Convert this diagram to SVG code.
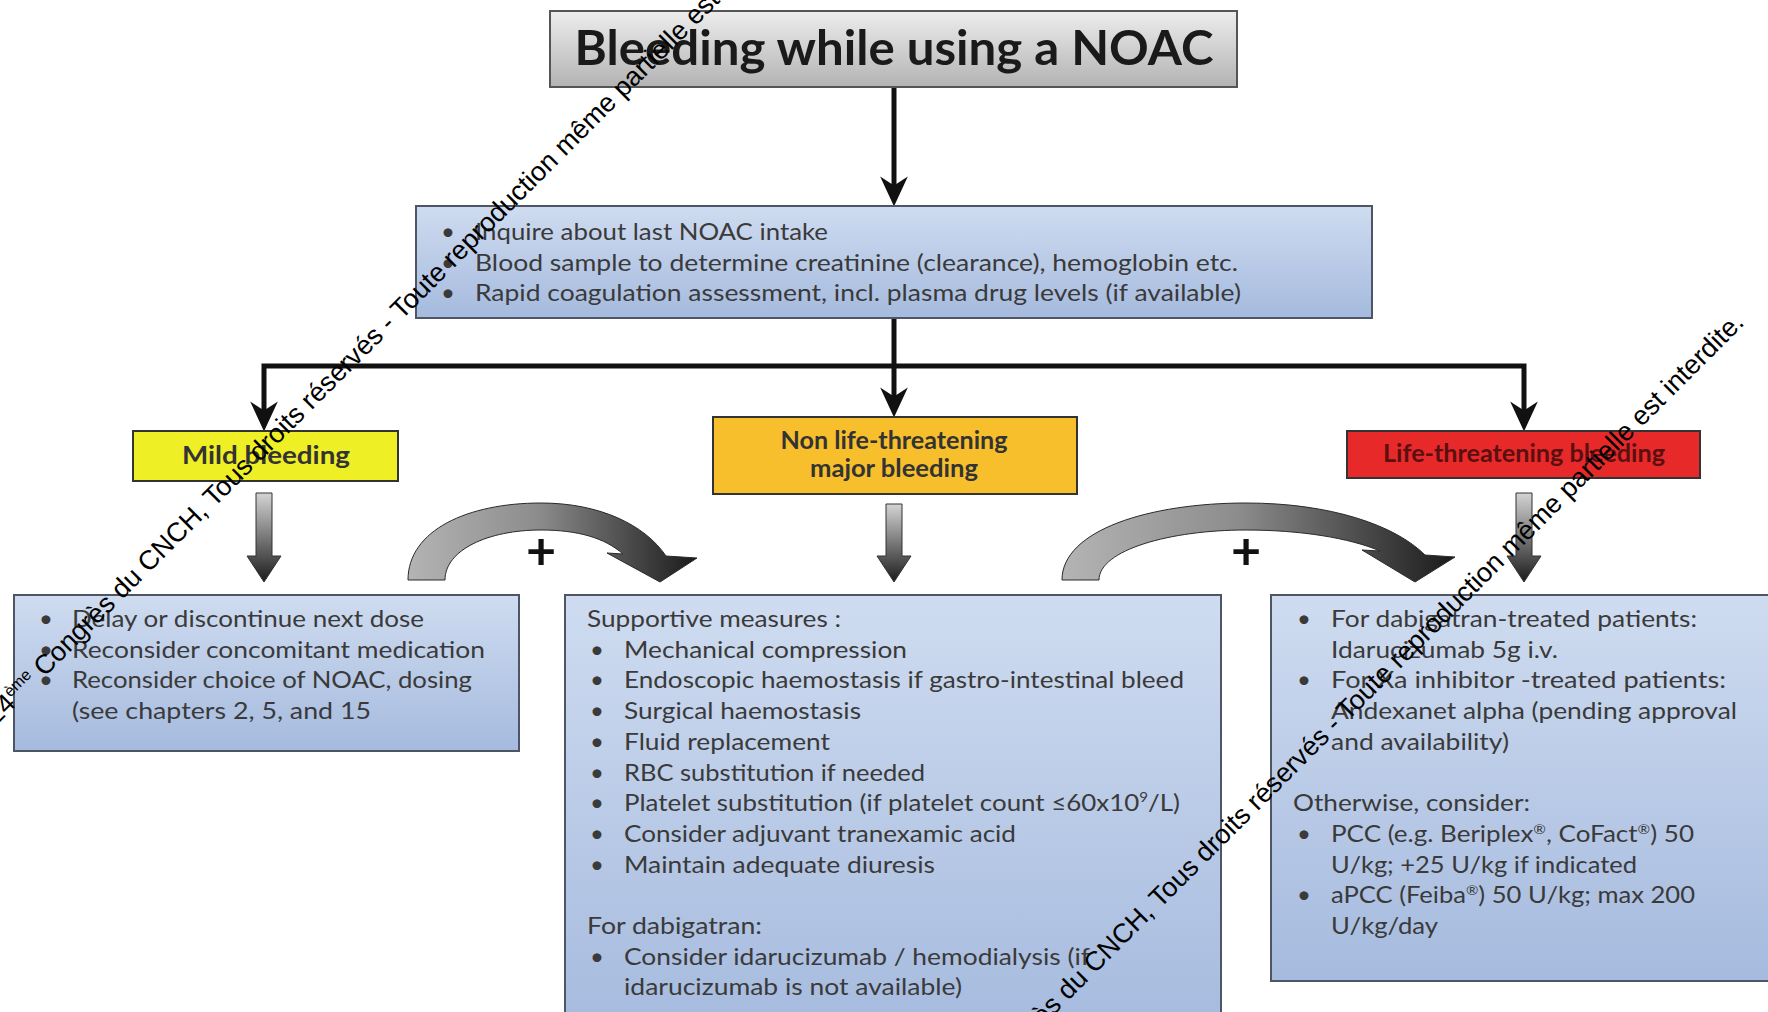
<svg xmlns="http://www.w3.org/2000/svg" width="1768" height="1012" viewBox="0 0 1768 1012">
<style>
.body{font-family:Lato,"Liberation Sans",sans-serif;font-size:24px;fill:#3a3a3a}
.lbl{font-family:Lato,"Liberation Sans",sans-serif;font-size:24px;font-weight:bold;text-anchor:middle}
.blue{fill:url(#blueGrad);stroke:#4e5666;stroke-width:2}
.conn{fill:none;stroke:#111;stroke-width:5;stroke-linejoin:miter}
.blk{fill:url(#blockGrad);stroke:#333;stroke-width:1}
.crv{fill:url(#curveGrad);stroke:#2a2a2a;stroke-width:1}
.wm{font-family:"Liberation Sans",Arial,sans-serif;font-size:27px;fill:#000}
.sup{font-size:14px}
</style>
<defs>
<linearGradient id="titleGrad" x1="0" y1="0" x2="0" y2="1"><stop offset="0" stop-color="#ededed"/><stop offset="1" stop-color="#b3b3b3"/></linearGradient>
<linearGradient id="blueGrad" x1="0" y1="0" x2="0" y2="1"><stop offset="0" stop-color="#cfdcf0"/><stop offset="1" stop-color="#a5bade"/></linearGradient>
<linearGradient id="blockGrad" x1="0" y1="0" x2="0" y2="1"><stop offset="0" stop-color="#d4d4d4"/><stop offset="1" stop-color="#1c1c1c"/></linearGradient>
<linearGradient id="curveGrad" x1="0" y1="0" x2="1" y2="0"><stop offset="0" stop-color="#b4b4b4"/><stop offset="0.45" stop-color="#8c8c8c"/><stop offset="1" stop-color="#1a1a1a"/></linearGradient>
<marker id="ah" markerUnits="userSpaceOnUse" markerWidth="30" markerHeight="30" viewBox="0 0 26 26" refX="17" refY="13" orient="auto"><path d="M0,1 L26,13 L0,25 L8,13 Z" fill="#111"/></marker>
</defs>
<rect width="1768" height="1012" fill="#fff"/>

<g id="connectors">
<path class="conn" d="M894,87 V196" marker-end="url(#ah)"/>
<path class="conn" d="M894,318 V366"/>
<path class="conn" d="M894,366 H264 V421" marker-end="url(#ah)"/>
<path class="conn" d="M894,366 H1524 V421" marker-end="url(#ah)"/>
<path class="conn" d="M894,366 V407" marker-end="url(#ah)"/>
<path class="blk" d="M256,493 H272 V556 H281 L264,582 L247,556 H256 Z"/>
<path class="blk" d="M886,504 H902 V556 H911 L894,582 L877,556 H886 Z"/>
<path class="blk" d="M1516,493 H1532 V556 H1541 L1524,582 L1507,556 H1516 Z"/>
<path class="crv" d="M408,580 C408,530 468,503 541,503 C600,503 645,525 666,556 L697,558 L660,582 L607,553 L623,554 C605,538 578,530 541,530 C488,530 445,550 445,580 Z"/>
<path class="crv" d="M1062,580 C1062,530 1150,503 1246,503 C1330,503 1395,525 1425,555 L1455,557 L1415,582 L1362,550 L1380,551 C1350,538 1300,530 1246,530 C1170,530 1099,550 1099,580 Z"/>
<text class="lbl" x="541" y="569" style="font-size:52px;fill:#111">+</text>
<text class="lbl" x="1246" y="569" style="font-size:52px;fill:#111">+</text>
</g>

<g id="title">
<rect x="550" y="11" width="687" height="76" fill="url(#titleGrad)" stroke="#555" stroke-width="2"/>
<text class="lbl" x="894" y="65" style="font-size:47px;fill:#1a1a1a" textLength="639" lengthAdjust="spacingAndGlyphs">Bleeding while using a NOAC</text>
</g>

<g id="assessment">
<rect class="blue" x="416" y="206" width="956" height="112"/>
<text class="body" x="441" y="240">•</text>
<text class="body" x="441" y="271">•</text>
<text class="body" x="441" y="301">•</text>
<text class="body" x="475" y="240" textLength="353" lengthAdjust="spacingAndGlyphs">Inquire about last NOAC intake</text>
<text class="body" x="475" y="271" textLength="763" lengthAdjust="spacingAndGlyphs">Blood sample to determine creatinine (clearance), hemoglobin etc.</text>
<text class="body" x="475" y="301" textLength="766" lengthAdjust="spacingAndGlyphs">Rapid coagulation assessment, incl. plasma drug levels (if available)</text>
</g>

<g id="mild">
<rect x="133" y="431" width="265" height="50" fill="#efef26" stroke="#333" stroke-width="2"/>
<text class="lbl" x="266" y="464" style="fill:#333" textLength="168" lengthAdjust="spacingAndGlyphs">Mild bleeding</text>
</g>

<g id="major">
<rect x="713" y="417" width="364" height="77" fill="#f7bf2c" stroke="#333" stroke-width="2"/>
<text class="lbl" x="894" y="449" style="fill:#333" textLength="227" lengthAdjust="spacingAndGlyphs">Non life-threatening</text>
<text class="lbl" x="894" y="477" style="fill:#333" textLength="168" lengthAdjust="spacingAndGlyphs">major bleeding</text>
</g>

<g id="life">
<rect x="1347" y="431" width="353" height="47" fill="#e8292a" stroke="#333" stroke-width="2"/>
<text class="lbl" x="1524" y="462" style="fill:#5a1010" textLength="282" lengthAdjust="spacingAndGlyphs">Life-threatening bleeding</text>
</g>

<g id="mild-actions">
<rect class="blue" x="14" y="595" width="505" height="156"/>
<text class="body" x="39" y="627">•</text>
<text class="body" x="39" y="657.5">•</text>
<text class="body" x="39" y="688">•</text>
<text class="body" x="72" y="627" textLength="352" lengthAdjust="spacingAndGlyphs">Delay or discontinue next dose</text>
<text class="body" x="72" y="657.5" textLength="413" lengthAdjust="spacingAndGlyphs">Reconsider concomitant medication</text>
<text class="body" x="72" y="688" textLength="400" lengthAdjust="spacingAndGlyphs">Reconsider choice of NOAC, dosing</text>
<text class="body" x="72" y="718.5" textLength="299" lengthAdjust="spacingAndGlyphs">(see chapters 2,  5, and 15</text>
</g>

<g id="major-actions">
<rect class="blue" x="565" y="595" width="656" height="440"/>
<text class="body" x="587" y="627" textLength="254" lengthAdjust="spacingAndGlyphs">Supportive measures :</text>
<text class="body" x="590" y="657.7">•</text>
<text class="body" x="590" y="688.4">•</text>
<text class="body" x="590" y="719.1">•</text>
<text class="body" x="590" y="749.8">•</text>
<text class="body" x="590" y="780.5">•</text>
<text class="body" x="590" y="811.2">•</text>
<text class="body" x="590" y="841.9">•</text>
<text class="body" x="590" y="872.6">•</text>
<text class="body" x="590" y="964.7">•</text>
<text class="body" x="624" y="657.7" textLength="283" lengthAdjust="spacingAndGlyphs">Mechanical compression</text>
<text class="body" x="624" y="688.4" textLength="560" lengthAdjust="spacingAndGlyphs">Endoscopic haemostasis if gastro-intestinal bleed</text>
<text class="body" x="624" y="719.1" textLength="237" lengthAdjust="spacingAndGlyphs">Surgical haemostasis</text>
<text class="body" x="624" y="749.8" textLength="206" lengthAdjust="spacingAndGlyphs">Fluid replacement</text>
<text class="body" x="624" y="780.5" textLength="301" lengthAdjust="spacingAndGlyphs">RBC substitution if needed</text>
<text class="body" x="624" y="811.2" textLength="556" lengthAdjust="spacingAndGlyphs">Platelet substitution (if platelet count ≤60x10<tspan class="sup" dy="-9">9</tspan><tspan dy="9">/L)</tspan></text>
<text class="body" x="624" y="841.9" textLength="392" lengthAdjust="spacingAndGlyphs">Consider adjuvant tranexamic acid</text>
<text class="body" x="624" y="872.6" textLength="311" lengthAdjust="spacingAndGlyphs">Maintain adequate diuresis</text>
<text class="body" x="587" y="934" textLength="175" lengthAdjust="spacingAndGlyphs">For dabigatran:</text>
<text class="body" x="624" y="964.7" textLength="466" lengthAdjust="spacingAndGlyphs">Consider idarucizumab / hemodialysis (if</text>
<text class="body" x="624" y="995.4" textLength="338" lengthAdjust="spacingAndGlyphs">idarucizumab is not available)</text>
</g>

<g id="life-actions">
<rect class="blue" x="1271" y="595" width="510" height="386"/>
<text class="body" x="1297" y="627">•</text>
<text class="body" x="1297" y="688.4">•</text>
<text class="body" x="1297" y="841.9">•</text>
<text class="body" x="1297" y="903.3">•</text>
<text class="body" x="1331" y="627" textLength="366" lengthAdjust="spacingAndGlyphs">For dabigatran-treated patients:</text>
<text class="body" x="1331" y="657.7" textLength="227" lengthAdjust="spacingAndGlyphs">Idarucizumab 5g i.v.</text>
<text class="body" x="1331" y="688.4" textLength="395" lengthAdjust="spacingAndGlyphs">For Xa inhibitor -treated patients:</text>
<text class="body" x="1331" y="719.1" textLength="406" lengthAdjust="spacingAndGlyphs">Andexanet alpha (pending approval</text>
<text class="body" x="1331" y="749.8" textLength="178" lengthAdjust="spacingAndGlyphs">and availability)</text>
<text class="body" x="1293" y="811.2" textLength="237" lengthAdjust="spacingAndGlyphs">Otherwise, consider:</text>
<text class="body" x="1331" y="841.9" textLength="363" lengthAdjust="spacingAndGlyphs">PCC (e.g. Beriplex<tspan class="sup" dy="-8">®</tspan><tspan dy="8">, CoFact</tspan><tspan class="sup" dy="-8">®</tspan><tspan dy="8">) 50</tspan></text>
<text class="body" x="1331" y="872.6" textLength="306" lengthAdjust="spacingAndGlyphs">U/kg; +25 U/kg if indicated</text>
<text class="body" x="1331" y="903.3" textLength="364" lengthAdjust="spacingAndGlyphs">aPCC (Feiba<tspan class="sup" dy="-8">®</tspan><tspan dy="8">) 50 U/kg; max 200</tspan></text>
<text class="body" x="1331" y="934" textLength="107" lengthAdjust="spacingAndGlyphs">U/kg/day</text>
</g>

<g id="watermark">
<text class="wm" transform="translate(-4,726) rotate(-45)">24<tspan font-size="16" dy="-10">ème</tspan><tspan dy="10"> Congrès du CNCH, Tous droits réservés - Toute reproduction même partielle est interdite.</tspan></text>
<text class="wm" transform="translate(942,1127) rotate(-45)">24<tspan font-size="16" dy="-10">ème</tspan><tspan dy="10"> Congrès du CNCH, Tous droits réservés - Toute reproduction même partielle est interdite.</tspan></text>
</g>
</svg>
